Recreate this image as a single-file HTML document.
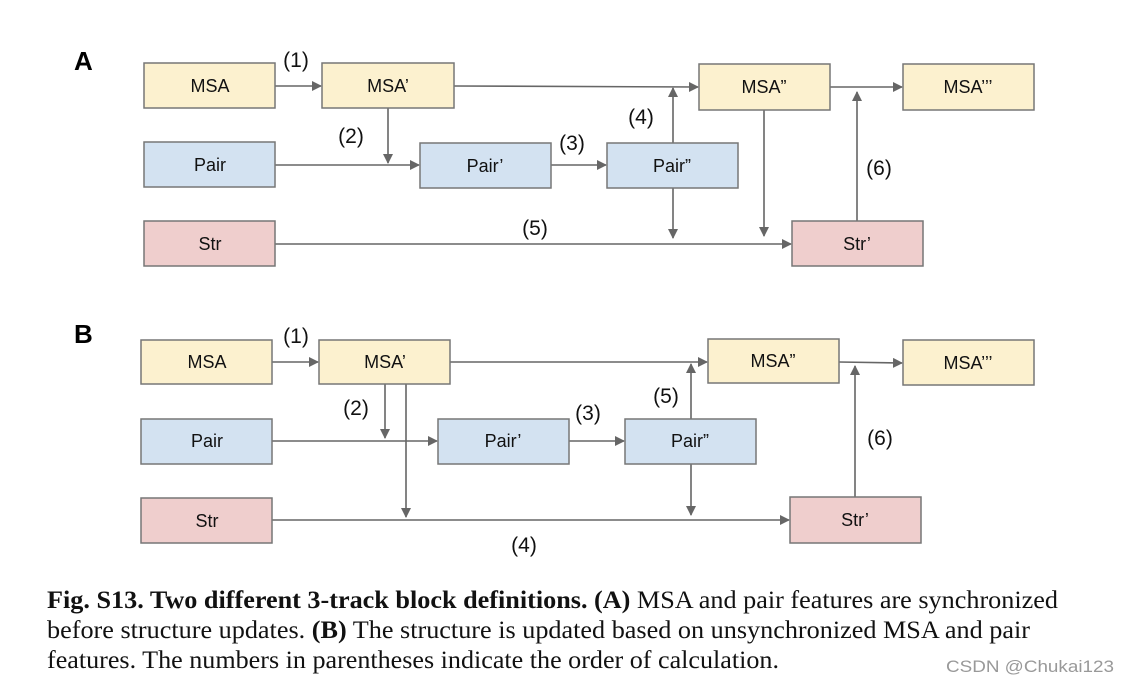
<!DOCTYPE html>
<html><head><meta charset="utf-8"><style>
html,body{margin:0;padding:0;background:#fff;}
svg{display:block;}
.b{stroke:#777;stroke-width:1.5;}
.y{fill:#fcf1cf;}.p{fill:#d3e2f1;}.r{fill:#efcecd;}
.t{font-family:"Liberation Sans",Arial,sans-serif;font-size:18px;fill:#111;text-anchor:middle;}
.n{font-family:"Liberation Sans",Arial,sans-serif;font-size:21px;fill:#111;text-anchor:middle;}
.L{stroke:#666;stroke-width:1.6;fill:none;}
.c{font-family:"Liberation Serif","Times New Roman",serif;font-size:25px;fill:#111;}
</style></head><body>
<svg width="1128" height="683" viewBox="0 0 1128 683" xmlns="http://www.w3.org/2000/svg">
<defs><marker id="a" markerWidth="10" markerHeight="10" refX="9" refY="5" orient="auto" markerUnits="userSpaceOnUse"><path d="M0,0 L10,5 L0,10 z" fill="#666"/></marker></defs>
<text x="74" y="70" font-family="Liberation Sans,Arial,sans-serif" font-size="26" font-weight="bold">A</text>
<text x="74" y="343" font-family="Liberation Sans,Arial,sans-serif" font-size="26" font-weight="bold">B</text>

<g class="L" marker-end="url(#a)">
<line x1="275" y1="86" x2="321" y2="86"/>
<line x1="454" y1="86" x2="698" y2="87"/>
<line x1="388" y1="108" x2="388" y2="163"/>
<line x1="275" y1="165" x2="419" y2="165"/>
<line x1="551" y1="165" x2="606" y2="165"/>
<line x1="673" y1="143" x2="673" y2="88"/>
<line x1="673" y1="188" x2="673" y2="238"/>
<line x1="764" y1="110" x2="764" y2="236"/>
<line x1="275" y1="244" x2="791" y2="244"/>
<line x1="857" y1="221" x2="857" y2="92"/>
<line x1="830" y1="87" x2="902" y2="87"/>
</g>
<g class="b">
<rect class="y" x="144" y="63" width="131" height="45"/>
<rect class="y" x="322" y="63" width="132" height="45"/>
<rect class="y" x="699" y="64" width="131" height="46"/>
<rect class="y" x="903" y="64" width="131" height="46"/>
<rect class="p" x="144" y="142" width="131" height="45"/>
<rect class="p" x="420" y="143" width="131" height="45"/>
<rect class="p" x="607" y="143" width="131" height="45"/>
<rect class="r" x="144" y="221" width="131" height="45"/>
<rect class="r" x="792" y="221" width="131" height="45"/>
</g>
<text class="t" x="210" y="92">MSA</text>
<text class="t" x="388" y="92">MSA’</text>
<text class="t" x="764" y="93">MSA”</text>
<text class="t" x="968" y="93">MSA’’’</text>
<text class="t" x="210" y="171">Pair</text>
<text class="t" x="485" y="172">Pair’</text>
<text class="t" x="672" y="172">Pair”</text>
<text class="t" x="210" y="250">Str</text>
<text class="t" x="857" y="250">Str’</text>
<text class="n" x="296" y="67">(1)</text>
<text class="n" x="351" y="143">(2)</text>
<text class="n" x="572" y="150">(3)</text>
<text class="n" x="641" y="124">(4)</text>
<text class="n" x="535" y="235">(5)</text>
<text class="n" x="879" y="175">(6)</text>

<g class="L" marker-end="url(#a)">
<line x1="272" y1="362" x2="318" y2="362"/>
<line x1="450" y1="362" x2="707" y2="362"/>
<line x1="385" y1="384" x2="385" y2="438"/>
<line x1="406" y1="384" x2="406" y2="517"/>
<line x1="272" y1="441" x2="437" y2="441"/>
<line x1="569" y1="441" x2="624" y2="441"/>
<line x1="691" y1="419" x2="691" y2="364"/>
<line x1="691" y1="464" x2="691" y2="515"/>
<line x1="272" y1="520" x2="789" y2="520"/>
<line x1="855" y1="497" x2="855" y2="366"/>
<line x1="839" y1="362" x2="902" y2="363"/>
</g>
<g class="b">
<rect class="y" x="141" y="340" width="131" height="44"/>
<rect class="y" x="319" y="340" width="131" height="44"/>
<rect class="y" x="708" y="339" width="131" height="44"/>
<rect class="y" x="903" y="340" width="131" height="45"/>
<rect class="p" x="141" y="419" width="131" height="45"/>
<rect class="p" x="438" y="419" width="131" height="45"/>
<rect class="p" x="625" y="419" width="131" height="45"/>
<rect class="r" x="141" y="498" width="131" height="45"/>
<rect class="r" x="790" y="497" width="131" height="46"/>
</g>
<text class="t" x="207" y="368">MSA</text>
<text class="t" x="385" y="368">MSA’</text>
<text class="t" x="773" y="367">MSA”</text>
<text class="t" x="968" y="369">MSA’’’</text>
<text class="t" x="207" y="447">Pair</text>
<text class="t" x="503" y="447">Pair’</text>
<text class="t" x="690" y="447">Pair”</text>
<text class="t" x="207" y="527">Str</text>
<text class="t" x="855" y="526">Str’</text>
<text class="n" x="296" y="343">(1)</text>
<text class="n" x="356" y="415">(2)</text>
<text class="n" x="588" y="420">(3)</text>
<text class="n" x="666" y="403">(5)</text>
<text class="n" x="880" y="445">(6)</text>
<text class="n" x="524" y="552">(4)</text>

<text class="c" x="47" y="608" textLength="1011" lengthAdjust="spacingAndGlyphs"><tspan font-weight="bold">Fig. S13. Two different 3-track block definitions. (A)</tspan> MSA and pair features are synchronized</text>
<text class="c" x="47" y="638" textLength="983" lengthAdjust="spacingAndGlyphs">before structure updates. <tspan font-weight="bold">(B)</tspan> The structure is updated based on unsynchronized MSA and pair</text>
<text class="c" x="47" y="668" textLength="732" lengthAdjust="spacingAndGlyphs">features. The numbers in parentheses indicate the order of calculation.</text>
<text x="946" y="672" font-family="Liberation Sans,Arial,sans-serif" font-size="17" fill="#999" textLength="168" lengthAdjust="spacingAndGlyphs">CSDN @Chukai123</text>
</svg>
</body></html>
